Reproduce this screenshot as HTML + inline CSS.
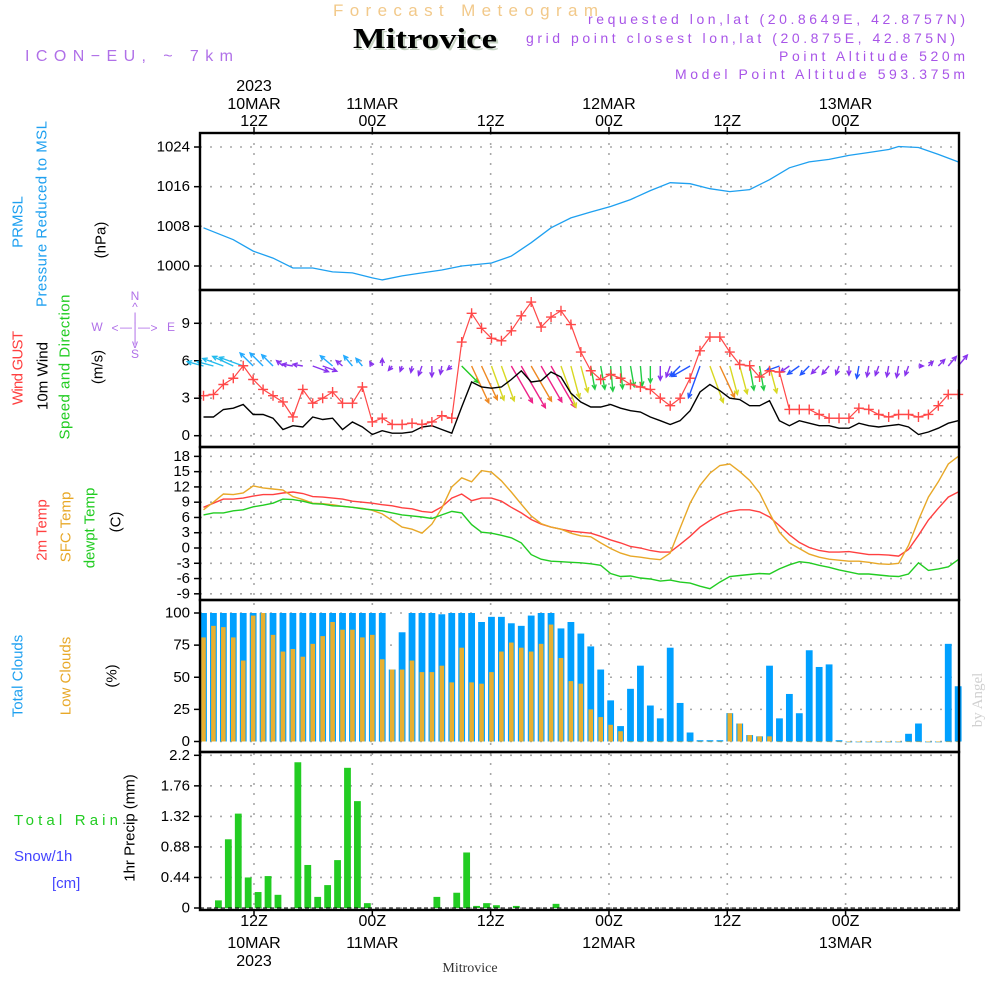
<!DOCTYPE html>
<html>
<head>
<meta charset="utf-8">
<style>
html,body{margin:0;padding:0;background:#fff;}
svg{display:block;}
text{font-family:"Liberation Sans",sans-serif;}
</style>
</head>
<body>
<svg id="chart" width="1000" height="1000" viewBox="0 0 1000 1000" xmlns="http://www.w3.org/2000/svg">
  <rect x="0" y="0" width="1000" height="1000" fill="#fff"/>
  <!-- header -->
  <text x="333" y="16" textLength="265" lengthAdjust="spacing" font-size="17" fill="#f2c98a">Forecast Meteogram</text>
  <text x="355" y="50" textLength="144" lengthAdjust="spacingAndGlyphs" font-size="29" font-weight="bold" fill="#c8d4c4" style="font-family:'Liberation Serif',serif">Mitrovice</text>
  <text x="353" y="48" textLength="144" lengthAdjust="spacingAndGlyphs" font-size="29" font-weight="bold" fill="#000" style="font-family:'Liberation Serif',serif">Mitrovice</text>
  <text x="588" y="24" textLength="377" lengthAdjust="spacing" font-size="14" fill="#a855e8">requested lon,lat (20.8649E, 42.8757N)</text>
  <text x="526" y="43" textLength="429" lengthAdjust="spacing" font-size="14" fill="#a855e8">grid point closest lon,lat (20.875E, 42.875N)</text>
  <text x="779" y="61" textLength="186" lengthAdjust="spacing" font-size="14" fill="#a855e8">Point Altitude 520m</text>
  <text x="675" y="79" textLength="290" lengthAdjust="spacing" font-size="14" fill="#a855e8">Model Point Altitude 593.375m</text>
  <text x="25" y="61" textLength="208" lengthAdjust="spacing" font-size="16" fill="#b070e8">ICON−EU, ~ 7km</text>
  <g id="layer"></g>
</svg>
<script>
// ---------- DATA ----------
const hourLabelsTop = ["12Z","00Z","12Z","00Z","12Z","00Z"];
const dayLabels = ["10MAR","11MAR","","12MAR","","13MAR"];
const gridHours = [0,12,24,36,48,60];
const pressureIdx = [0,3,5,7,9,11,13,15,17,18,20,22,24,26,29,31,33,35,37,39,41,43,45,47,49,51,53,55,57,59,61,63,65,67,69,70,72,74,76];
const pressureVals = [1007.7,1005.3,1003,1001.6,999.6,999.6,998.8,998.6,997.6,997.2,998,998.6,999.2,1000,1000.6,1002,1004.7,1007.7,1009.7,1010.9,1012,1013.4,1015.2,1016.8,1016.6,1015.6,1015,1015.4,1017.4,1019.8,1021,1021.5,1022.3,1022.9,1023.5,1024.1,1023.9,1022.5,1021];
const pressureTicks = [1000,1008,1016,1024];
const gustVals = [3.2,3.3,4.1,4.6,5.6,4.5,3.7,3.2,2.7,1.5,3.7,2.6,3.0,3.5,2.6,2.6,3.9,1.1,1.4,0.9,0.9,1.0,0.9,1.1,1.6,1.4,7.5,9.8,8.6,7.8,7.6,8.4,9.6,10.7,8.7,9.5,10.0,8.9,6.7,5.2,4.5,4.9,4.6,4.1,3.9,3.7,3.0,2.4,3.0,4.6,6.8,7.9,7.9,6.7,5.7,5.6,4.7,5.2,5.1,2.1,2.1,2.1,1.7,1.4,1.4,1.4,2.2,2.1,1.7,1.5,1.7,1.7,1.5,1.7,2.4,3.3,3.3];
const windVals = [1.5,1.5,2.1,2.2,2.5,1.7,1.7,1.4,0.5,0.8,0.7,1.5,1.3,1.4,0.5,1.1,0.7,0.1,0.4,0.2,0.2,0.3,0.7,0.8,0.5,0.2,2.3,4.3,3.9,3.8,3.9,4.5,5.2,4.3,4.4,5.1,4.7,3.4,2.7,2.3,2.3,2.5,2.2,2.0,1.9,1.5,1.2,0.9,1.2,2.0,3.5,4.1,3.6,3.0,2.9,2.4,2.4,2.8,1.2,0.8,1.2,1.0,0.8,0.8,0.6,0.6,1.0,0.8,0.7,0.8,0.9,0.7,0.1,0.3,0.6,1.0,1.2];
const windDirs = [285,285,290,295,290,315,315,315,310,280,280,110,110,310,310,320,320,330,0,220,200,190,200,180,190,230,135,155,155,160,160,150,150,150,150,150,160,165,165,170,170,175,175,170,175,180,180,200,225,240,200,160,155,165,165,170,170,165,250,235,235,225,225,220,200,180,190,190,200,190,190,200,90,45,45,40,40];
const windTicks = [0,3,6,9];
const temp2m = [8.0,8.8,9.6,9.6,9.8,10.2,10.5,10.5,10.8,11.0,10.7,10.1,10.0,9.8,9.6,9.2,9.0,8.8,8.5,8.3,7.9,7.7,7.2,7.0,8.1,9.8,10.6,9.3,9.8,9.8,9.2,8.0,6.9,5.6,4.7,4.1,3.7,3.3,3.1,2.9,2.3,1.6,1.0,0.3,0,-0.5,-0.8,-0.8,0.7,2.3,4.1,5.4,6.5,7.2,7.5,7.5,7.1,6.1,4.4,2.6,1.1,0.1,-0.5,-0.8,-0.8,-0.7,-1.0,-1.3,-1.3,-1.4,-1.6,-0.3,2.5,5.5,7.8,10.0,11.0];
const tempSfc = [7.5,9.0,10.6,10.5,10.8,12.2,11.8,11.6,11.4,10.1,9.5,8.8,8.7,8.5,8.2,8.0,7.8,7.4,6.7,5.4,4.1,3.7,2.9,4.7,7.8,12.0,13.8,13.0,15.2,14.9,13.2,11.0,8.6,6.3,4.8,4.1,3.7,2.9,2.4,2.2,1.0,-0.1,-1.0,-1.6,-1.8,-2.1,-2.3,-1.0,3.9,8.8,12.3,14.7,16.2,16.5,15.0,13.3,10.8,6.9,3.1,1.0,-0.1,-1.2,-1.8,-2.2,-2.4,-2.6,-2.6,-2.8,-3.1,-3.2,-3.0,0.5,5.5,10.0,13.0,16.5,18.0];
const tempDew = [6.5,6.9,6.9,7.3,7.5,8.1,8.4,8.8,9.6,9.5,9.2,8.7,8.6,8.3,8.2,8.0,7.7,7.5,7.3,6.9,6.5,6.3,6.1,5.8,6.5,7.2,6.9,4.6,3.1,2.9,2.5,2.0,1.0,-1.3,-2.2,-2.6,-2.7,-2.8,-2.9,-3.1,-3.4,-5.0,-5.6,-5.5,-5.9,-6.1,-6.5,-6.3,-6.7,-6.9,-7.5,-8.0,-6.7,-5.6,-5.4,-5.2,-5.0,-5.1,-4.1,-3.3,-2.7,-2.9,-3.4,-3.8,-4.3,-4.7,-5.1,-5.1,-5.3,-5.5,-5.6,-5.1,-2.9,-4.4,-4.1,-3.7,-2.3];
const tempTicks = [-9,-6,-3,0,3,6,9,12,15,18];
const totalClouds = [100,100,100,100,100,100,100,100,100,100,100,100,100,100,100,100,100,100,100,56,85,100,100,100,99,100,100,100,93,97,97,92,90,98,100,100,88,93,84,74,56,32,12,41,59,28,18,73,30,7,1,1,1,22,14,5,4,59,18,37,22,71,58,60,1,0,0,0,0,0,0,6,14,0,0,76,43];
const lowClouds = [81,90,89,81,63,98,100,83,70,72,66,76,82,93,87,87,81,83,64,56,56,63,54,54,59,46,73,46,45,54,70,77,73,70,76,91,65,47,45,25,19,13,8,0,0,0,0,0,0,0,0,0,0,22,14,5,4,4,0,0,0,0,0,0,0,0,0,0,0,0,0,0,0,0,0,0,0];
const cloudTicks = [0,25,50,75,100];
const precipVals = [0,0.11,0.99,1.36,0.44,0.23,0.46,0.19,0,2.10,0.62,0.16,0.33,0.69,2.02,1.54,0.07,0,0,0,0,0,0,0.16,0,0.22,0.80,0.03,0.07,0.04,0,0.03,0,0,0,0.06,0,0,0,0,0,0,0,0,0,0,0,0,0,0,0,0,0,0,0,0,0,0,0,0,0,0,0,0,0,0,0,0,0,0,0,0,0,0,0,0,0];
const precipTicks = ["0","0.44","0.88","1.32","1.76","2.2"];

// ---------- AXES ----------
const X0 = 200, X1 = 959;
const xi = i => 203.5 + 9.93 * i;
const xg = h => 254 + 9.86 * h;
const yP = v => 266 - (v - 1000) * 4.958;
const yW = v => 435.7 - v * 12.49;
const yT = v => 548 - v * 5.09;
const yC = v => 741.5 - v * 1.285;
const yR = v => 908 - v * 69.4;
const panels = [[133,290],[290,447],[447,600],[600,752],[752,910]];

const NS = "http://www.w3.org/2000/svg";
const layer = document.getElementById('layer');
function mk(tag, attrs, parent) {
  const e = document.createElementNS(NS, tag);
  for (const k in attrs) e.setAttribute(k, attrs[k]);
  (parent || layer).appendChild(e);
  return e;
}
function txt(s, x, y, opts, parent) {
  const e = mk('text', Object.assign({x:x, y:y, 'font-size':15, fill:'#000'}, opts || {}), parent);
  e.textContent = s;
  return e;
}
function rtxt(s, cx, cy, color, size, len) {
  const a = {x:0, y:0, 'font-size':size||15, fill:color, 'text-anchor':'middle', 'dominant-baseline':'central', transform:`translate(${cx},${cy}) rotate(-90)`};
  if (len) { a.textLength = len; a.lengthAdjust = 'spacing'; }
  const e = mk('text', a);
  e.textContent = s;
  return e;
}

// gridlines
const grid = mk('g', {});


function hgrid(y) {
  const l = mk('line', {x1:X0, x2:X1, y1:y, y2:y, stroke:'#a8a8a8', 'stroke-width':1.6, 'stroke-dasharray':'2 8'}, grid);
  
  
}
gridHours.forEach(h => {
  const l = mk('line', {x1:xg(h), x2:xg(h), y1:133, y2:910, stroke:'#a8a8a8', 'stroke-width':1.6, 'stroke-dasharray':'2 8'}, grid);
  
  
});
pressureTicks.forEach(v => hgrid(yP(v)));
windTicks.forEach(v => hgrid(yW(v)));
tempTicks.forEach(v => hgrid(yT(v)));
cloudTicks.forEach(v => hgrid(yC(v)));
precipTicks.forEach(v => hgrid(yR(parseFloat(v))));

// y tick labels
function ytick(label, y) {
  const t = txt(label, 190, y, {'text-anchor':'end', 'dominant-baseline':'central', 'font-size':15});
  
  
  const l = mk('line', {x1:194, x2:200, y1:y, y2:y, stroke:'#000', 'stroke-width':1.5});
  
  
}
pressureTicks.forEach(v => ytick(String(v), yP(v)));
windTicks.forEach(v => ytick(String(v), yW(v)));
tempTicks.forEach(v => ytick(String(v), yT(v)));
cloudTicks.forEach(v => ytick(String(v), yC(v)));
precipTicks.forEach(v => ytick(v, yR(parseFloat(v))));

// ---------- PRESSURE ----------
let d = pressureIdx.map((ix, k) => (k ? 'L' : 'M') + xi(ix).toFixed(1) + ',' + yP(pressureVals[k]).toFixed(1)).join('');
const pl = mk('path', {d:d, fill:'none', stroke:'#1ea0f0', 'stroke-width':1.3});



// ---------- WIND ----------
function arrowColor(dir, s) {
  if (dir >= 120 && dir < 145) return '#22cc22';
  if (dir >= 145 && dir < 158) return s >= 4.4 ? '#ee2288' : '#ee8822';
  if (dir >= 158 && dir < 168) return '#d8d822';
  if (dir >= 168 && dir <= 185) return s < 1.5 ? '#8833ee' : '#22cc44';
  if (dir > 185 && dir < 260) return s < 1.0 ? '#8833ee' : '#2255ff';
  if (dir >= 260 && dir < 300) return s < 1.0 ? '#8833ee' : '#22bbee';
  if (dir >= 300) return s < 0.6 ? '#8833ee' : '#22aaff';
  return '#8833ee';
}
const arrows = mk('g', {});


windDirs.forEach((dir, i) => {
  const s = windVals[i];
  const len = 4 + 8.5 * s;
  const r = dir * Math.PI / 180;
  const x0 = xi(i), y0 = 366;
  const x1 = x0 + len * Math.sin(r), y1 = y0 - len * Math.cos(r);
  const c = arrowColor(dir, s);
  const hl = 5, a1 = r + Math.PI - 0.45, a2 = r + Math.PI + 0.45;
  const p = `M${x0},${y0}L${x1},${y1}M${x1 + hl*Math.sin(a1)},${y1 - hl*Math.cos(a1)}L${x1},${y1}L${x1 + hl*Math.sin(a2)},${y1 - hl*Math.cos(a2)}`;
  const e = mk('path', {d:p, fill:'none', stroke:c, 'stroke-width':1.4}, arrows);
  
  
});
d = windVals.map((v, i) => (i ? 'L' : 'M') + xi(i).toFixed(1) + ',' + yW(v).toFixed(1)).join('');
const wl = mk('path', {d:d, fill:'none', stroke:'#000', 'stroke-width':1.4});


d = gustVals.map((v, i) => (i ? 'L' : 'M') + xi(i).toFixed(1) + ',' + yW(v).toFixed(1)).join('');
const gl = mk('path', {d:d, fill:'none', stroke:'#ff4848', 'stroke-width':1.2});


gustVals.forEach((v, i) => {
  const x = xi(i), y = yW(v);
  const m = mk('path', {d:`M${x-5},${y}L${x+5},${y}M${x},${y-5}L${x},${y+5}`, stroke:'#ff4848', 'stroke-width':1.4});
  
  
});

// ---------- TEMPERATURE ----------
[[temp2m,'#ff4040','temp-2m-line'],[tempSfc,'#e8a828','temp-sfc-line'],[tempDew,'#22cc22','dewpoint-line']].forEach(([arr,col,name]) => {
  const dd = arr.map((v, i) => (i ? 'L' : 'M') + xi(i).toFixed(1) + ',' + yT(v).toFixed(1)).join('');
  const e = mk('path', {d:dd, fill:'none', stroke:col, 'stroke-width':1.4});
  
  
});

// ---------- CLOUDS ----------
totalClouds.forEach((v, i) => {
  const y = yC(v);
  const b = mk('rect', {x:xi(i) - 3.4, y:y, width:6.8, height:Math.max(yC(0) - y, 0.8), fill:'#00a0ff'});
  
  
});
lowClouds.forEach((v, i) => {
  const y = yC(v);
  const b = mk('rect', {x:xi(i) - 2.3, y:y, width:4.6, height:Math.max(yC(0) - y, 0.6), fill:'#e8b030'});
  
  
});

// ---------- PRECIP ----------
precipVals.forEach((v, i) => {
  if (v <= 0) return;
  const y = yR(v);
  const b = mk('rect', {x:xi(i + 0.5) - 3.4, y:y, width:6.8, height:yR(0) - y, fill:'#22cc22'});
  
  
});
const base = mk('line', {x1:X0, x2:X1, y1:908, y2:908, stroke:'#000', 'stroke-width':1, 'stroke-dasharray':'4 3'});



// ---------- FRAMES ----------
panels.forEach(([a, b], k) => {
  const r = mk('rect', {x:X0, y:a, width:X1 - X0, height:b - a, fill:'none', stroke:'#000', 'stroke-width':2.4});
  
  
});
gridHours.forEach(h => {
  const t1 = mk('line', {x1:xg(h), x2:xg(h), y1:127, y2:133, stroke:'#000', 'stroke-width':1.5});
  
  
  const t2 = mk('line', {x1:xg(h), x2:xg(h), y1:910, y2:916, stroke:'#000', 'stroke-width':1.5});
  
  
});

// ---------- X LABELS ----------
gridHours.forEach((h, k) => {
  const x = xg(h);
  const a = txt(hourLabelsTop[k], x, 126, {'text-anchor':'middle', 'font-size':16});
  
  
  const b = txt(hourLabelsTop[k], x, 926, {'text-anchor':'middle', 'font-size':16});
  
  
  if (dayLabels[k]) {
    const c = txt(dayLabels[k], x, 109, {'text-anchor':'middle', 'font-size':16});
    
    
    const e = txt(dayLabels[k], x, 948, {'text-anchor':'middle', 'font-size':16});
    
    
  }
});
const y1 = txt('2023', xg(0), 91, {'text-anchor':'middle', 'font-size':16});


const y2 = txt('2023', xg(0), 966, {'text-anchor':'middle', 'font-size':16});


const loc = txt('Mitrovice', 470, 972, {'text-anchor':'middle', 'font-size':14, fill:'#333', style:"font-family:'Liberation Serif',serif"});



// ---------- AXIS TITLES ----------
let e;
e = rtxt('PRMSL', 18, 222, '#1ea0f0', 15);  
e = rtxt('Pressure Reduced to MSL', 42, 214, '#1ea0f0', 15, 186);  
e = rtxt('(hPa)', 101, 240, '#000', 15);  
e = rtxt('Wind GUST', 18, 368, '#ff4040', 15, 74);  
e = rtxt('10m Wind', 43, 376, '#000', 15, 68);  
e = rtxt('Speed and Direction', 65, 367, '#22cc22', 15, 145);  
e = rtxt('(m/s)', 98, 367, '#000', 15);  
e = rtxt('2m Temp', 42, 530, '#ff4040', 15);  
e = rtxt('SFC Temp', 66, 527, '#e8a828', 15);  
e = rtxt('dewpt Temp', 90, 528, '#22cc22', 15);  
e = rtxt('(C)', 116, 522, '#000', 15);  
e = rtxt('Total Clouds', 18, 676, '#1ea0f0', 15);  
e = rtxt('Low Clouds', 66, 676, '#e8a828', 15);  
e = rtxt('(%)', 112, 676, '#000', 15);  
e = rtxt('1hr Precip (mm)', 130, 828, '#000', 15);  
e = txt('Total  Rain', 14, 825, {fill:'#22cc22', 'font-size':15, textLength:104, lengthAdjust:'spacing'});  
e = txt('Snow/1h', 14, 861, {fill:'#4444ff', 'font-size':15});  
e = txt('[cm]', 52, 888, {fill:'#4444ff', 'font-size':15});  
e = rtxt('by Angel', 978, 700, '#d0d0d0', 15); e.setAttribute('style', "font-family:'Liberation Serif',serif");  

// compass
const cg = mk('g', {fill:'#b070e8', 'font-size':12, 'text-anchor':'middle'});


[['N',135,300],['^',135,311],['|',135,321],['W',97,331],['<',115,332],['—',126,331],['|',135,331],['—',144,331],['>',154,332],['E',171,331],['|',135,342],['v',135,348],['S',135,358]].forEach(([s,x,y]) => {
  const t = txt(s, x, y, {'font-size':12, fill:'#b070e8', 'text-anchor':'middle'}, cg);
  
  
});
</script>
</body>
</html>
